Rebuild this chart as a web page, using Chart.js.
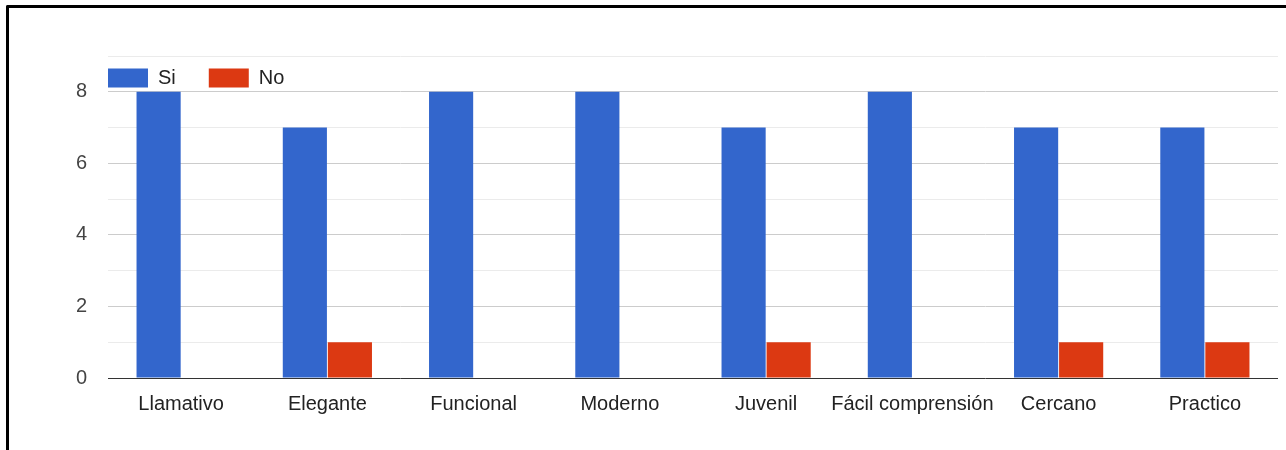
<!DOCTYPE html>
<html>
<head>
<meta charset="utf-8">
<script src="https://cdn.jsdelivr.net/npm/chart.js@4.4.1/dist/chart.umd.min.js"></script>
<style>
  html, body { margin: 0; padding: 0; background: #fff; overflow: hidden; }
  #frame {
    position: absolute; left: 6px; top: 5px; width: 1300px; height: 460px;
    border-left: 3px solid #000; border-top: 3px solid #000; border-top-left-radius: 2px;
  }
  #chart { position: absolute; left: 0; top: 0; }
</style>
</head>
<body>
<div id="frame"></div>
<canvas id="chart" width="1286" height="450"></canvas>
<script>
// answers per attribute
const categories = ["Llamativo", "Elegante", "Funcional", "Moderno", "Juvenil", "Fácil comprensión", "Cercano", "Practico"];
const siValues = [8, 7, 8, 8, 7, 8, 7, 7];
const noValues = [0, 1, 0, 0, 1, 0, 1, 1];
const yTicks = [0, 2, 4, 6, 8];

const FONT = "'Liberation Sans', Arial, sans-serif";

// legend sits inside the plot as a single row, pushed into the top-left corner
const legendNudge = {
  id: "legendNudge",
  beforeLayout(chart) {
    if (chart.legend) chart.legend.isHorizontal = () => true;
  },
  afterLayout(chart) {
    const lg = chart.legend;
    if (!lg) return;
    lg.left = chart.chartArea.left - 33;
    lg.top = chart.chartArea.top - 21;
  }
};

new Chart(document.getElementById("chart"), {
  type: "bar",
  data: {
    labels: categories,
    datasets: [
      { label: "Si", data: siValues, backgroundColor: "#3366cc" },
      { label: "No", data: noValues, backgroundColor: "#dc3912" }
    ]
  },
  options: {
    responsive: false,
    animation: false,
    layout: { padding: { left: 0, top: 56, right: 8, bottom: 0 } },
    datasets: { bar: { categoryPercentage: 0.616, barPercentage: 0.98 } },
    plugins: {
      tooltip: { enabled: false },
      legend: {
        position: "chartArea",
        align: "start",
        labels: {
          boxWidth: 40,
          boxHeight: 19,
          padding: 33,
          color: "#222",
          font: { family: FONT, size: 20 }
        }
      }
    },
    scales: {
      x: {
        grid: { display: false },
        border: { display: false },
        ticks: {
          color: "#222",
          padding: 6,
          maxRotation: 0,
          autoSkip: false,
          font: { family: FONT, size: 20 }
        },
        afterFit: s => { s.height = 72; }
      },
      y: {
        min: 0,
        max: 9,
        border: { display: false },
        grid: {
          drawTicks: false,
          lineWidth: 1,
          color: ctx => {
            const v = ctx.tick.value;
            if (v === 0) return "#333";
            return yTicks.includes(v) ? "#cccccc" : "#ebebeb";
          }
        },
        ticks: {
          stepSize: 1,
          padding: 21,
          color: "#444",
          font: { family: FONT, size: 20 },
          callback: v => (yTicks.includes(v) ? String(v) : "")
        },
        afterFit: s => { s.width = 108; }
      }
    }
  },
  plugins: [legendNudge]
});
</script>
</body>
</html>
